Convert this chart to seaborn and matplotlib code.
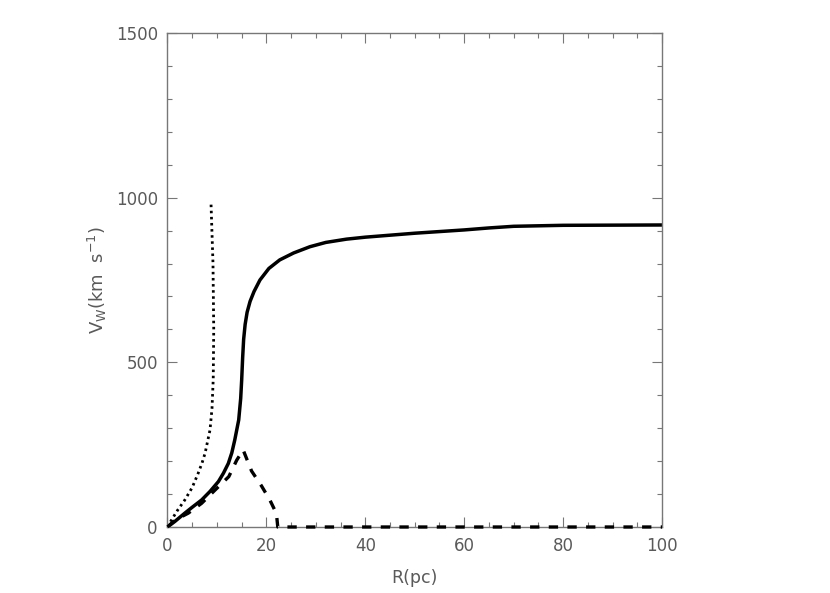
import matplotlib
matplotlib.use("Agg")
import matplotlib.pyplot as plt
import seaborn as sns
import pandas as pd
from matplotlib.ticker import MultipleLocator

# solid curve: wind velocity
r_solid = [0, 1.5, 3.5, 5, 6.9, 8.6, 10.3, 11.3, 12.3, 13, 13.6, 14.4, 14.8, 15.0, 15.2,
           15.4, 15.7, 16.1, 16.7, 17.5, 18.7, 20.5, 22.7, 25.5, 28.8, 32, 36.2, 40, 50, 60,
           65, 70, 80, 100]
v_solid = [0, 17, 42, 60, 82, 108, 138, 163, 193, 225, 264, 325, 390, 446, 515,
           570, 615, 652, 685, 715, 750, 785, 811, 832, 851, 864, 874, 880, 892, 902,
           908, 913, 916, 917]

# dashed curve
r_dash = [0, 1.5, 4.2, 6.9, 9.6, 12.4, 14, 15.3, 17, 19, 20.7, 21.8, 22.1, 22.3,
          30, 50, 70, 100]
v_dash = [0, 21, 42, 72, 112, 153, 203, 234, 170, 125, 82, 48, 30, 0,
          0, 0, 0, 0]

# dotted curve
r_dot = [0, 0.8, 2, 3.5, 5, 6.2, 7, 7.6, 8.6, 9.0, 9.25, 9.35, 9.2, 8.8]
v_dot = [0, 21, 50, 82, 120, 163, 195, 224, 295, 360, 450, 600, 800, 983]

sns.set_style("ticks")
plt.rcParams['font.family'] = ['DejaVu Sans']

fig = plt.figure(figsize=(8.3, 5.93), dpi=100)
ax = fig.add_axes([0.2018, 0.1113, 0.5958, 0.8331])

df_s = pd.DataFrame({"R": r_solid, "V": v_solid})
df_d = pd.DataFrame({"R": r_dash, "V": v_dash})
df_o = pd.DataFrame({"R": r_dot, "V": v_dot})

sns.lineplot(data=df_s, x="R", y="V", ax=ax, color="black", lw=2.5,
             sort=False, estimator=None)
sns.lineplot(data=df_d, x="R", y="V", ax=ax, color="black", lw=2.4,
             sort=False, estimator=None, linestyle=(0, (2.8, 2.8)),
             clip_on=False, zorder=5)
sns.lineplot(data=df_o, x="R", y="V", ax=ax, color="black", lw=2.0,
             sort=False, estimator=None, linestyle=(0, (0.9, 1.3)))

ax.set_xlim(0, 100)
ax.set_ylim(0, 1500)
ax.xaxis.set_major_locator(MultipleLocator(20))
ax.xaxis.set_minor_locator(MultipleLocator(5))
ax.yaxis.set_major_locator(MultipleLocator(500))
ax.yaxis.set_minor_locator(MultipleLocator(100))

gray = "#5a5a5a"
for s in ax.spines.values():
    s.set_color("#777777")
    s.set_linewidth(1.0)
ax.tick_params(which="both", direction="in", top=True, right=True,
               colors="#777777", labelcolor=gray, labelsize=12, width=0.8)
ax.tick_params(which="major", length=7.2, pad=7)
ax.tick_params(which="minor", length=3.6)

ax.set_xlabel("R(pc)", fontsize=12.5, color=gray, labelpad=10)
ax.set_ylabel(r"V$_{\rm W}$(km  s$^{-1}$)", fontsize=13, color=gray, labelpad=5)

fig.savefig("out.png", dpi=100)
